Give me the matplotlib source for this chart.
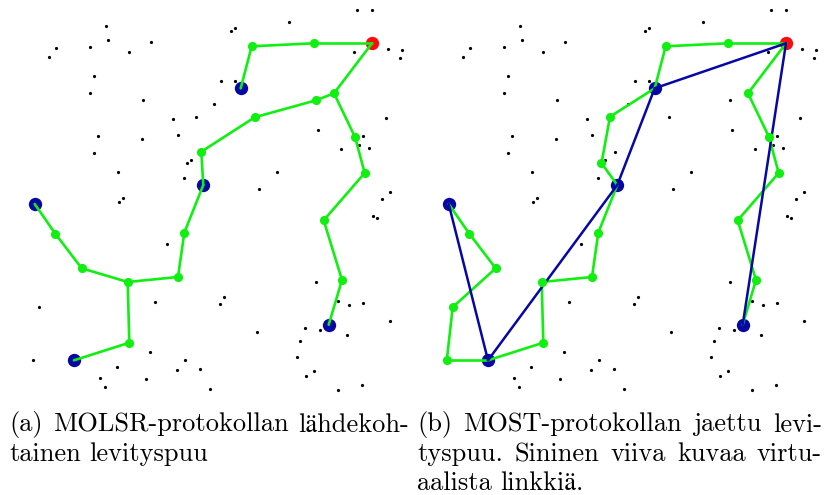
import matplotlib
matplotlib.use("Agg")
import matplotlib.pyplot as plt

# ---------------- data (pixel-like coordinates of panel, y downwards) ----------------
# key network nodes used by the multicast trees
key_x = [372.0, 313.7, 251.7, 240.7, 334.0, 316.0, 254.7, 201.3, 203.3, 355.0,
         364.7, 34.7, 55.3, 81.7, 127.7, 178.0, 184.3, 129.3, 74.0, 323.7,
         342.0, 328.7, 196.0, 187.5, 38.7, 32.8]
key_y = [43.3, 43.3, 46.3, 88.3, 93.3, 100.3, 117.3, 151.7, 185.0, 137.0,
         173.0, 204.0, 233.7, 268.3, 282.0, 277.0, 232.7, 342.7, 360.3, 220.3,
         280.0, 324.7, 116.7, 163.2, 307.2, 360.3]
source = 0
receivers = [3, 8, 11, 18, 21]

# other network nodes
dot_x = [357.0, 372.0, 105.7, 289.3, 231.0, 235.3, 56.3, 49.3, 90.0, 107.7,
         129.0, 151.0, 353.7, 387.7, 402.0, 399.7, 93.7, 90.0, 221.3, 234.7,
         142.7, 214.3, 172.7, 385.7, 317.7, 97.7, 142.3, 177.7, 363.0, 359.3,
         369.3, 340.7, 94.3, 190.7, 118.0, 184.3, 277.3, 258.7, 389.7, 382.0,
         123.3, 119.3, 373.3, 376.7, 167.3, 82.3, 154.7, 223.7, 220.3, 316.0,
         337.7, 349.0, 363.0, 389.7, 305.3, 320.0, 346.7, 300.0, 257.3, 150.0,
         117.3, 100.3, 105.3, 146.3, 176.7, 185.3, 199.7, 210.3, 296.7, 313.7,
         306.0, 362.3, 338.0]
dot_y = [10.3, 10.3, 26.3, 21.7, 30.7, 27.7, 48.0, 57.0, 46.7, 40.3,
         51.7, 41.7, 51.7, 48.7, 50.0, 58.0, 75.7, 93.0, 81.0, 81.0,
         100.0, 103.7, 119.3, 118.3, 130.0, 135.7, 138.7, 134.7, 136.3, 145.3,
         147.7, 149.0, 152.7, 160.0, 172.3, 177.7, 172.3, 189.3, 192.0, 199.0,
         198.3, 202.3, 216.0, 218.3, 244.0, 265.3, 302.0, 297.3, 303.7, 282.3,
         301.3, 305.3, 303.3, 321.0, 327.7, 330.3, 334.7, 341.0, 332.3, 352.0,
         367.0, 378.0, 386.7, 378.7, 369.7, 359.7, 369.0, 389.3, 357.0, 371.0,
         375.7, 384.7, 389.7]

# tree edges (pairs of key node indices)
tree_a = [(0, 1), (1, 2), (2, 3), (0, 4), (4, 5), (5, 6), (6, 7), (7, 8), (8, 16),
          (16, 15), (15, 14), (14, 13), (13, 12), (12, 11), (14, 17), (17, 18),
          (4, 9), (9, 10), (10, 19), (19, 20), (20, 21)]
tree_b = [(0, 1), (1, 2), (2, 3), (3, 22), (22, 23), (23, 8), (8, 16), (16, 15),
          (15, 14), (14, 17), (17, 18), (18, 25), (25, 24), (24, 13), (13, 12),
          (12, 11), (0, 4), (4, 9), (9, 10), (10, 19), (19, 20), (20, 21)]
virtual_b = [(0, 3), (3, 8), (8, 18), (18, 11), (0, 21)]

caption_a = [["(a)", "MOLSR-protokollan", "lähdekoh-"],
             ["tainen", "levityspuu"]]
caption_b = [["(b)", "MOST-protokollan", "jaettu", "levi-"],
             ["tyspuu.", "Sininen", "viiva", "kuvaa", "virtu-"],
             ["aalista", "linkkiä."]]

GREEN = "#10f010"
BLUE = "#0707a6"
RED = "#ff0a0a"

W, H = 828, 495
fig = plt.figure(figsize=(W / 100, H / 100), dpi=100)

PW, PH = 414, 395


def draw_panel(left_px, edges, virtual):
    ax = fig.add_axes([left_px / W, (H - PH) / H, PW / W, PH / H])
    ax.set_xlim(0, PW)
    ax.set_ylim(PH, 0)
    ax.axis("off")
    used = sorted({i for e in edges for i in e})
    # plain network nodes
    ax.plot(dot_x, dot_y, "o", color="black", ms=2.3, mec="none", zorder=1)
    others = [i for i in range(len(key_x)) if i not in used]
    ax.plot([key_x[i] for i in others], [key_y[i] for i in others], "o",
            color="black", ms=2.3, mec="none", zorder=1)
    # receivers and source
    ax.plot([key_x[i] for i in receivers], [key_y[i] for i in receivers], "o",
            color=BLUE, ms=9.6, mec="none", zorder=2)
    ax.plot([key_x[source]], [key_y[source]], "o", color=RED, ms=9.6,
            mec="none", zorder=2)
    for a, b in edges:
        ax.plot([key_x[a], key_x[b]], [key_y[a], key_y[b]], "-", color=GREEN,
                lw=1.9, zorder=3, solid_capstyle="round")
    for a, b in virtual:
        ax.plot([key_x[a], key_x[b]], [key_y[a], key_y[b]], "-", color=BLUE,
                lw=1.8, zorder=4, solid_capstyle="round")
    greens = [i for i in used if i not in receivers and i != source]
    ax.plot([key_x[i] for i in greens], [key_y[i] for i in greens], "o",
            color=GREEN, ms=6.6, mec="none", zorder=5)
    return ax


draw_panel(0, tree_a, [])
draw_panel(414, tree_b, virtual_b)

FONT = ["cmr10", "STIXGeneral", "DejaVu Serif"]
FS = 19.0
renderer = fig.canvas.get_renderer()


def place_line(words, x0, x1, ybase, justify):
    texts = [fig.text(0, 1 - ybase / H, w, family=FONT, fontsize=FS,
                      va="baseline", ha="left") for w in words]
    widths = [t.get_window_extent(renderer).width for t in texts]
    if justify and len(words) > 1:
        gap = (x1 - x0 - sum(widths)) / (len(words) - 1)
    else:
        gap = FS * 100 / 72 * 0.333
    x = x0
    for t, wd in zip(texts, widths):
        t.set_x(x / W)
        x += wd + gap


def place_caption(lines, x0, x1, y0, dy):
    for k, words in enumerate(lines):
        place_line(words, x0, x1, y0 + k * dy, k < len(lines) - 1)


place_caption(caption_a, 9, 409, 431.5, 29.5)
place_caption(caption_b, 417, 822, 431.5, 29.5)

fig.savefig("out.png", dpi=100)
